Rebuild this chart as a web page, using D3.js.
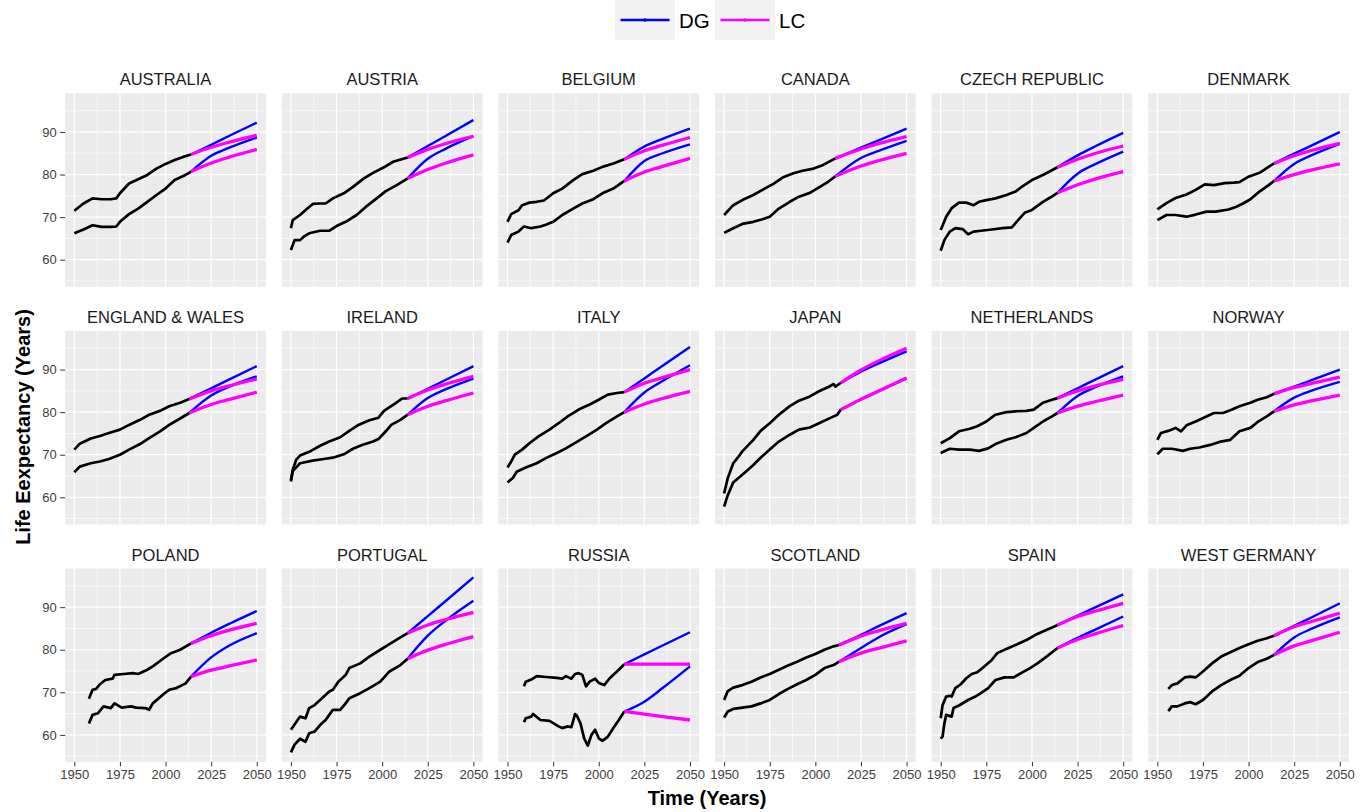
<!DOCTYPE html>
<html>
<head>
<meta charset="utf-8">
<script src="https://cdn.jsdelivr.net/npm/d3@7"></script>
<style>
  body { margin: 0; background: #fff; }
  svg { display: block; font-family: "Liberation Sans", Arial, Helvetica, sans-serif; }
</style>
</head>
<body>
<div id="chart"></div>
<script>
const countries = ['AUSTRALIA', 'AUSTRIA', 'BELGIUM', 'CANADA', 'CZECH REPUBLIC', 'DENMARK',
  'ENGLAND & WALES', 'IRELAND', 'ITALY', 'JAPAN', 'NETHERLANDS', 'NORWAY',
  'POLAND', 'PORTUGAL', 'RUSSIA', 'SCOTLAND', 'SPAIN', 'WEST GERMANY'];

// observed life expectancy, [year, value], one list per country (same order)
const femaleHist = [
  [[1950,71.5],[1955,73.2],[1960,74.4],[1965,74.2],[1970,74.2],[1973,74.4],[1975,75.6],[1980,77.9],[1985,78.9],[1990,79.9],[1995,81.4],[2000,82.5],[2005,83.4],[2010,84.2],[2014,84.7]],
  [[1950,67.4],[1951,69.3],[1955,70.5],[1959,72.0],[1962,73.1],[1966,73.2],[1969,73.2],[1973,74.4],[1979,75.6],[1984,77.1],[1990,79.1],[1995,80.4],[2001,81.7],[2006,83.0],[2014,84.0]],
  [[1950,68.9],[1952,70.7],[1956,71.6],[1958,72.8],[1962,73.4],[1966,73.6],[1970,73.9],[1975,75.6],[1980,76.7],[1986,78.7],[1991,80.1],[1997,80.9],[2002,81.8],[2008,82.6],[2014,83.6]],
  [[1950,70.5],[1955,72.8],[1960,74.0],[1966,75.2],[1971,76.4],[1977,77.8],[1982,79.3],[1988,80.3],[1993,80.9],[1999,81.4],[2004,82.2],[2011,83.8]],
  [[1950,67.0],[1953,70.1],[1956,72.1],[1960,73.4],[1964,73.4],[1968,72.8],[1971,73.6],[1975,74.0],[1980,74.4],[1986,75.2],[1991,76.0],[1995,77.3],[2000,78.7],[2006,79.9],[2014,81.7]],
  [[1950,71.8],[1955,73.3],[1960,74.5],[1966,75.3],[1971,76.4],[1976,77.7],[1981,77.5],[1987,78.0],[1992,78.1],[1995,78.2],[2000,79.5],[2006,80.4],[2011,81.8],[2014,82.6]],
  [[1950,71.2],[1953,72.6],[1959,73.8],[1964,74.4],[1969,75.1],[1975,75.9],[1980,77.0],[1986,78.2],[1991,79.4],[1997,80.3],[2002,81.4],[2008,82.2],[2013,83.1]],
  [[1950,64.0],[1951,66.5],[1953,68.9],[1955,69.8],[1961,70.9],[1966,72.1],[1971,73.1],[1977,74.1],[1982,75.6],[1987,77.0],[1993,78.1],[1998,78.7],[2001,80.3],[2007,82.0],[2011,83.2],[2014,83.2]],
  [[1950,67.0],[1952,68.4],[1954,70.0],[1958,71.2],[1962,72.7],[1967,74.3],[1973,75.9],[1978,77.4],[1983,79.0],[1989,80.6],[1995,81.8],[2000,82.9],[2005,84.1],[2010,84.5],[2014,84.7]],
  [[1950,60.9],[1952,64.5],[1955,68.0],[1958,69.6],[1960,70.8],[1966,73.5],[1970,75.6],[1975,77.4],[1980,79.4],[1986,81.4],[1991,82.7],[1997,83.7],[2002,84.9],[2008,86.1],[2010,86.6],[2011,86.0],[2014,86.9]],
  [[1950,72.7],[1955,73.9],[1960,75.5],[1966,76.1],[1970,76.7],[1975,77.8],[1980,79.4],[1986,80.0],[1991,80.2],[1997,80.3],[2001,80.6],[2006,82.2],[2011,82.9],[2014,83.3]],
  [[1950,73.5],[1952,75.1],[1956,75.6],[1960,76.3],[1963,75.5],[1966,76.9],[1971,77.8],[1976,78.8],[1981,79.8],[1986,79.8],[1991,80.6],[1995,81.4],[2001,82.2],[2005,82.9],[2010,83.5],[2014,84.3]],
  [[1958,68.5],[1960,70.6],[1962,70.8],[1964,71.9],[1967,72.9],[1971,73.2],[1972,74.1],[1977,74.3],[1982,74.5],[1985,74.3],[1990,75.3],[1993,76.1],[1999,78.0],[2003,79.2],[2008,80.0],[2014,81.5]],
  [[1950,61.2],[1955,64.3],[1958,63.9],[1960,66.3],[1963,67.0],[1966,68.2],[1971,70.2],[1973,70.6],[1976,72.5],[1980,74.1],[1982,75.7],[1988,76.8],[1993,78.4],[1999,80.0],[2004,81.3],[2010,82.9],[2014,83.9]],
  [[1959,71.4],[1960,72.5],[1963,73.0],[1966,73.8],[1971,73.6],[1977,73.4],[1980,73.2],[1982,73.8],[1985,73.2],[1987,74.3],[1989,74.5],[1991,74.1],[1993,71.4],[1995,72.5],[1998,73.2],[2000,72.2],[2003,71.7],[2006,73.3],[2010,74.9],[2014,76.6]],
  [[1950,68.2],[1952,70.3],[1955,71.1],[1960,71.7],[1965,72.5],[1970,73.5],[1975,74.3],[1980,75.3],[1985,76.3],[1990,77.2],[1995,78.2],[2000,79.0],[2005,80.0],[2010,80.8],[2013,81.1]],
  [[1950,63.9],[1951,67.0],[1953,69.0],[1955,69.2],[1956,69.0],[1958,71.0],[1961,71.9],[1964,73.3],[1967,74.3],[1970,74.7],[1974,76.1],[1978,77.6],[1981,79.2],[1986,80.2],[1991,81.1],[1997,82.3],[2002,83.5],[2006,84.3],[2011,85.2],[2014,85.8]],
  [[1956,70.8],[1958,71.7],[1961,72.1],[1965,73.5],[1968,73.7],[1971,73.5],[1975,74.9],[1980,76.8],[1985,78.4],[1990,79.4],[1995,80.4],[2000,81.3],[2005,82.1],[2010,82.7],[2014,83.3]]
];

const maleHist = [
  [[1950,66.2],[1955,67.1],[1960,68.1],[1965,67.7],[1970,67.7],[1973,67.8],[1975,68.9],[1980,70.7],[1985,72.0],[1990,73.6],[1995,75.2],[2000,76.7],[2005,78.7],[2010,79.7],[2014,80.7]],
  [[1950,62.3],[1952,64.6],[1955,64.6],[1957,65.4],[1960,66.2],[1966,66.8],[1971,66.8],[1975,67.9],[1980,68.9],[1986,70.5],[1991,72.4],[1997,74.4],[2002,76.1],[2008,77.5],[2014,79.1]],
  [[1950,64.0],[1952,65.8],[1956,66.6],[1959,67.8],[1963,67.4],[1968,67.8],[1971,68.2],[1975,68.9],[1980,70.5],[1986,72.0],[1991,73.2],[1997,74.2],[2002,75.6],[2008,76.7],[2014,78.5]],
  [[1950,66.3],[1955,67.4],[1960,68.4],[1966,68.9],[1971,69.5],[1975,70.1],[1980,72.0],[1986,73.6],[1991,74.8],[1997,75.7],[2002,77.0],[2007,78.3],[2011,79.6]],
  [[1950,62.1],[1952,64.6],[1955,66.6],[1958,67.4],[1962,67.2],[1965,66.0],[1968,66.6],[1972,66.8],[1978,67.1],[1984,67.4],[1989,67.6],[1993,69.6],[1996,71.0],[2000,71.7],[2006,73.6],[2010,74.6],[2014,75.7]],
  [[1950,69.3],[1955,70.5],[1960,70.5],[1966,70.1],[1971,70.6],[1977,71.3],[1982,71.3],[1989,71.8],[1993,72.4],[1997,73.2],[2001,74.2],[2006,76.0],[2011,77.5],[2014,78.5]],
  [[1950,65.9],[1953,67.2],[1959,68.0],[1964,68.4],[1969,69.0],[1975,70.0],[1980,71.2],[1986,72.5],[1991,73.9],[1997,75.5],[2002,77.0],[2008,78.5],[2013,79.8]],
  [[1950,63.7],[1951,66.2],[1952,66.6],[1955,68.0],[1962,68.6],[1968,69.0],[1973,69.3],[1979,70.1],[1984,71.4],[1989,72.3],[1995,73.1],[1998,73.7],[2002,75.5],[2005,77.0],[2010,78.2],[2014,79.4]],
  [[1950,63.5],[1953,64.6],[1955,66.0],[1960,67.0],[1966,68.0],[1971,69.2],[1977,70.4],[1982,71.5],[1988,73.0],[1993,74.3],[1999,75.9],[2004,77.4],[2010,79.0],[2014,80.0]],
  [[1950,57.8],[1952,60.5],[1955,63.5],[1958,64.6],[1960,65.3],[1966,67.6],[1970,69.3],[1975,71.2],[1980,73.1],[1986,74.7],[1991,75.9],[1997,76.4],[2002,77.4],[2008,78.6],[2012,79.4],[2014,80.6]],
  [[1950,70.4],[1955,71.4],[1960,71.2],[1966,71.2],[1971,70.9],[1976,71.5],[1980,72.5],[1986,73.5],[1991,74.1],[1997,75.1],[2001,76.3],[2006,77.8],[2011,79.0],[2014,79.8]],
  [[1950,70.1],[1953,71.4],[1958,71.4],[1964,70.9],[1968,71.4],[1973,71.7],[1979,72.3],[1984,73.0],[1990,73.5],[1995,75.5],[2001,76.3],[2005,77.7],[2010,79.0],[2014,80.2]],
  [[1958,62.7],[1960,64.7],[1963,65.1],[1966,66.7],[1970,66.3],[1972,67.4],[1976,66.4],[1981,66.7],[1984,66.4],[1989,66.3],[1991,65.9],[1993,67.4],[1999,69.6],[2002,70.6],[2006,71.0],[2011,72.1],[2014,73.7]],
  [[1950,55.9],[1952,57.7],[1955,59.1],[1958,58.4],[1960,60.4],[1963,60.8],[1966,62.3],[1969,63.5],[1971,64.7],[1973,65.9],[1977,65.9],[1980,67.4],[1982,68.6],[1988,69.8],[1993,71.0],[1999,72.5],[2004,74.9],[2010,76.4],[2014,77.9]],
  [[1959,63.0],[1960,63.9],[1963,64.3],[1964,64.9],[1968,63.5],[1973,63.3],[1978,62.0],[1980,61.6],[1983,62.0],[1985,61.8],[1987,64.9],[1988,64.5],[1990,62.7],[1992,59.2],[1994,57.5],[1996,60.0],[1998,61.2],[2000,59.2],[2002,58.6],[2005,59.6],[2008,61.6],[2011,63.5],[2014,65.5]],
  [[1950,64.1],[1952,65.5],[1955,66.1],[1960,66.4],[1965,66.7],[1970,67.4],[1975,68.2],[1980,69.6],[1985,70.8],[1990,71.9],[1995,72.9],[2000,74.1],[2005,75.7],[2010,76.4],[2013,77.2]],
  [[1950,59.1],[1951,59.6],[1952,62.7],[1953,64.7],[1956,64.3],[1957,66.3],[1960,66.9],[1965,68.2],[1969,69.0],[1972,69.8],[1976,71.0],[1980,72.9],[1985,73.5],[1990,73.5],[1994,74.5],[1999,75.7],[2003,76.8],[2008,78.4],[2014,80.4]],
  [[1956,65.6],[1958,66.7],[1961,66.7],[1965,67.4],[1968,67.7],[1971,67.2],[1975,68.2],[1980,70.2],[1985,71.7],[1990,72.9],[1995,73.9],[2000,75.7],[2005,77.1],[2010,77.9],[2014,78.8]]
];

// forecasts at these years; each starts from the last observed value
const projYears = [2025, 2035, 2050];
const femaleDG = [[87.0,89.1,92.2],[86.7,89.1,92.8],[86.6,88.4,90.8],[86.3,88.1,90.8],[84.5,86.7,89.8],[84.9,86.9,90.0],
  [85.6,87.7,90.8],[85.5,87.6,90.8],[87.9,90.9,95.3],[89.5,91.5,94.3],[85.6,87.7,90.8],[86.0,87.6,90.0],
  [84.0,86.1,89.1],[87.9,91.5,97.0],[78.9,81.0,84.1],[83.5,85.6,88.6],[88.0,90.0,93.0],[85.6,87.7,90.9]];
const femaleLC = [[86.4,87.6,89.2],[85.9,87.3,89.0],[85.6,86.9,88.7],[86.0,87.3,88.9],[83.6,85.0,86.7],[84.4,85.7,87.3],
  [85.0,86.2,87.8],[85.2,86.6,88.4],[86.8,88.1,90.0],[89.9,92.1,95.0],[85.0,86.2,87.7],[85.8,86.8,88.2],
  [83.3,84.6,86.2],[85.8,87.1,88.8],[76.6,76.6,76.6],[83.2,84.5,86.2],[87.8,89.1,90.9],[85.4,86.7,88.6]];
const maleDG = [[84.4,86.3,88.7],[83.7,86.1,89.0],[83.2,85.0,87.1],[83.9,85.6,87.9],[80.2,82.5,85.4],[82.5,84.6,87.2],
  [83.9,86.0,88.4],[83.3,85.4,87.9],[84.6,87.3,91.0],[83.0,85.0,88.0],[83.8,85.9,88.4],[83.4,85.1,87.1],
  [78.2,81.0,83.9],[83.3,86.9,91.5],[67.8,71.0,76.1],[80.4,83.0,86.0],[82.8,84.8,87.8],[82.9,85.0,87.6]];
const maleLC = [[82.7,84.1,85.9],[81.2,82.7,84.6],[80.6,81.9,83.8],[82.0,83.3,85.0],[77.6,79.0,80.7],[80.0,81.1,82.5],
  [81.8,83.0,84.7],[81.4,82.7,84.5],[81.9,83.2,84.9],[83.0,85.0,88.0],[81.4,82.5,84.0],[81.7,82.7,84.0],
  [75.2,76.2,77.6],[79.9,81.3,83.1],[64.9,64.3,63.5],[79.2,80.4,82.1],[82.4,83.8,85.7],[80.9,82.2,84.1]];

const xTicks = [1950, 1975, 2000, 2025, 2050];
const xMinor = [1962.5, 1987.5, 2012.5, 2037.5];
const yTicks = [60, 70, 80, 90];
const yMinor = [55, 65, 75, 85, 95];

const width = 1369, height = 812;
const panelW = 200.7, panelH = 193.4;
const colX = i => 65.2 + i * 216.6;
const rowY = j => 93.3 + j * 237.6;

const x = d3.scaleLinear().domain([1945, 2055]).range([0, panelW]);
const y = d3.scaleLinear().domain([53.66, 99.08]).range([panelH, 0]);

const colors = { DG: '#0000ff', LC: '#ff00ff' };

const svg = d3.select('#chart').append('svg')
    .attr('width', width)
    .attr('height', height);

const histLine = d3.line().x(d => x(d[0])).y(d => y(d[1]));
const projLine = d3.line().x(d => x(d[0])).y(d => y(d[1])).curve(d3.curveMonotoneX);

function projection(hist, vals) {
    return [hist[hist.length - 1]].concat(projYears.map((yr, i) => [yr, vals[i]]));
}

countries.forEach(function(name, k) {
    const col = k % 6, row = Math.floor(k / 6);
    const g = svg.append('g').attr('transform', `translate(${colX(col)},${rowY(row)})`);

    g.append('rect').attr('width', panelW).attr('height', panelH).attr('fill', '#ebebeb');

    // grid
    g.selectAll('.ymin').data(yMinor).enter().append('line')
        .attr('x1', 0).attr('x2', panelW).attr('y1', d => y(d)).attr('y2', d => y(d))
        .attr('stroke', '#fff').attr('stroke-width', 0.6);
    g.selectAll('.xmin').data(xMinor).enter().append('line')
        .attr('y1', 0).attr('y2', panelH).attr('x1', d => x(d)).attr('x2', d => x(d))
        .attr('stroke', '#fff').attr('stroke-width', 0.6);
    g.selectAll('.ymaj').data(yTicks).enter().append('line')
        .attr('x1', 0).attr('x2', panelW).attr('y1', d => y(d)).attr('y2', d => y(d))
        .attr('stroke', '#fff').attr('stroke-width', 1.2);
    g.selectAll('.xmaj').data(xTicks).enter().append('line')
        .attr('y1', 0).attr('y2', panelH).attr('x1', d => x(d)).attr('x2', d => x(d))
        .attr('stroke', '#fff').attr('stroke-width', 1.2);

    // strip title
    g.append('text')
        .attr('x', panelW / 2).attr('y', -8)
        .attr('text-anchor', 'middle')
        .attr('font-size', 16.5)
        .attr('fill', '#1a1a1a')
        .text(name);

    // observed
    [femaleHist[k], maleHist[k]].forEach(function(h) {
        g.append('path').attr('d', histLine(h))
            .attr('fill', 'none').attr('stroke', '#000')
            .attr('stroke-width', 2.7).attr('stroke-linejoin', 'round');
    });

    // forecasts
    [femaleDG[k], maleDG[k]].forEach(function(v, s) {
        const h = s === 0 ? femaleHist[k] : maleHist[k];
        g.append('path').attr('d', projLine(projection(h, v)))
            .attr('fill', 'none').attr('stroke', colors.DG).attr('stroke-width', 2.4);
    });
    [femaleLC[k], maleLC[k]].forEach(function(v, s) {
        const h = s === 0 ? femaleHist[k] : maleHist[k];
        g.append('path').attr('d', projLine(projection(h, v)))
            .attr('fill', 'none').attr('stroke', colors.LC).attr('stroke-width', 3.3);
    });

    if (col === 0) {
        const ax = g.append('g').call(d3.axisLeft(y).tickValues(yTicks).tickSize(5).tickPadding(3.5));
        ax.select('.domain').remove();
        ax.selectAll('line').attr('stroke', '#333');
        ax.selectAll('text').attr('fill', '#3d3d3d').attr('font-size', 13)
            .attr('font-family', '"Liberation Sans", Arial, sans-serif');
    }
    if (row === 2) {
        const ax = g.append('g').attr('transform', `translate(0,${panelH})`)
            .call(d3.axisBottom(x).tickValues(xTicks).tickFormat(d3.format('d')).tickSize(4.5).tickPadding(3.8));
        ax.select('.domain').remove();
        ax.selectAll('line').attr('stroke', '#333');
        ax.selectAll('text').attr('fill', '#3d3d3d').attr('font-size', 13)
            .attr('font-family', '"Liberation Sans", Arial, sans-serif');
    }
});

// axis titles
svg.append('text')
    .attr('x', 707).attr('y', 805)
    .attr('text-anchor', 'middle')
    .attr('font-size', 20).attr('font-weight', 'bold')
    .text('Time (Years)');
svg.append('text')
    .attr('transform', 'translate(29.5,427) rotate(-90)')
    .attr('text-anchor', 'middle')
    .attr('font-size', 20).attr('font-weight', 'bold')
    .text('Life Eexpectancy (Years)');

// legend
const legendItems = [
    { key: 'DG', x: 615 },
    { key: 'LC', x: 715 }
];
const lg = svg.append('g');
legendItems.forEach(function(item) {
    lg.append('rect').attr('x', item.x).attr('y', 0).attr('width', 60).attr('height', 40).attr('fill', '#f2f2f2');
    lg.append('line').attr('x1', item.x + 5.5).attr('x2', item.x + 54.5).attr('y1', 20).attr('y2', 20)
        .attr('stroke', colors[item.key]).attr('stroke-width', 2.4);
    lg.append('circle').attr('cx', item.x + 30).attr('cy', 20).attr('r', 1.8).attr('fill', colors[item.key]);
    lg.append('text').attr('x', item.x + 64).attr('y', 28.3)
        .attr('font-size', 20.5).attr('fill', '#000')
        .text(item.key);
});
</script>
</body>
</html>
